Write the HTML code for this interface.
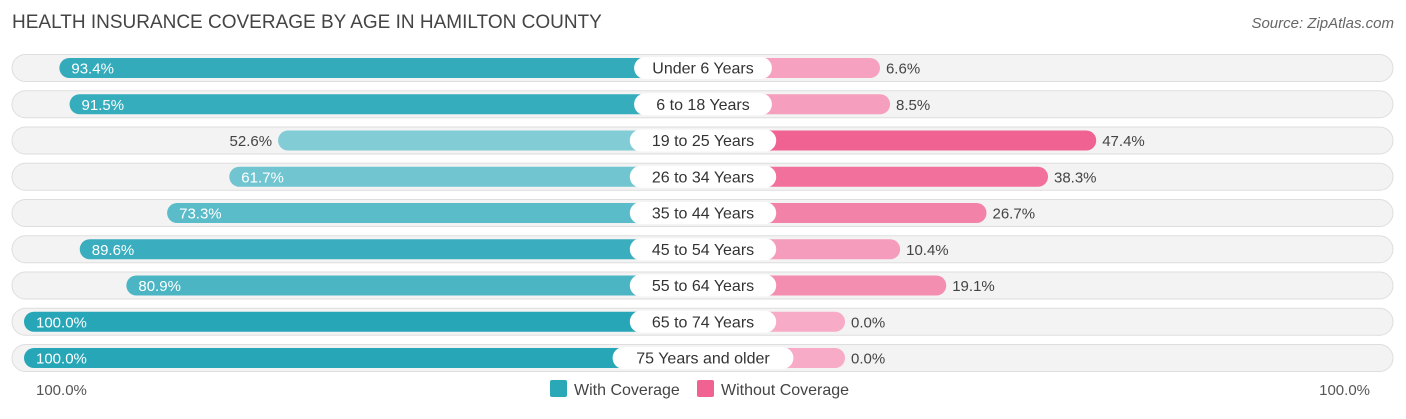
<!DOCTYPE html>
<html><head><meta charset="utf-8"><style>
body{margin:0;background:#fff;font-family:"Liberation Sans",sans-serif;}
svg text{font-family:"Liberation Sans",sans-serif;}
</style></head><body>
<svg width="1406" height="414" xmlns="http://www.w3.org/2000/svg" id="chart">
<text x="12" y="28" font-size="19" fill="#444">HEALTH INSURANCE COVERAGE BY AGE IN HAMILTON COUNTY</text>
<text x="1394" y="28" font-size="15" fill="#666" font-style="italic" text-anchor="end">Source: ZipAtlas.com</text>
<g id="rows"></g>
<text x="36" y="395" font-size="15" fill="#555">100.0%</text>
<text x="1370" y="395" font-size="15" fill="#555" text-anchor="end">100.0%</text>
<rect x="550" y="380" width="17" height="17" rx="2" fill="#2ba8b8"/>
<text x="574" y="395" font-size="16" fill="#444">With Coverage</text>
<rect x="697" y="380" width="17" height="17" rx="2" fill="#f06292"/>
<text x="721" y="395" font-size="16" fill="#444">Without Coverage</text>
</svg>
<script>
const categories=["Under 6 Years","6 to 18 Years","19 to 25 Years","26 to 34 Years","35 to 44 Years","45 to 54 Years","55 to 64 Years","65 to 74 Years","75 Years and older"];
const withCoverage=[93.4,91.5,52.6,61.7,73.3,89.6,80.9,100.0,100.0];
const withoutCoverage=[6.6,8.5,47.4,38.3,26.7,10.4,19.1,0.0,0.0];
const NS="http://www.w3.org/2000/svg";
const g=document.getElementById('rows');
const center=703, tealZero=560, pinkZero=845, sx=5.36, sxp=5.3;
const xTeal=v=>tealZero-v*sx, xPink=v=>pinkZero+v*sxp;
const rowY=i=>68+i*36.25;
function mk(t,a){const e=document.createElementNS(NS,t);for(const k in a)e.setAttribute(k,a[k]);return e;}
function mix(a,b,t){return 'rgb('+a.map((c,i)=>Math.round(c+(b[i]-c)*t)).join(',')+')';}
categories.forEach((c,i)=>{
  const cy=rowY(i);
  const bg=mk('rect',{x:12,y:cy-13.5,width:1381,height:27,rx:13.5,fill:'#f3f3f3',stroke:'#dedede'});
  
  
  g.appendChild(bg);
  const w=withCoverage[i], x1=xTeal(w);
  const t1=Math.min(1,Math.max(0,(w-50)/50));
  const b1=mk('rect',{x:x1,y:cy-10,width:center-x1,height:20,rx:10,fill:mix([135,206,216],[38,166,183],t1)});
  
  
  g.appendChild(b1);
  const wo=withoutCoverage[i], x2=xPink(wo);
  const t2=Math.min(1,wo/47.4);
  const b2=mk('rect',{x:center,y:cy-10,width:x2-center,height:20,rx:10,fill:mix([247,171,198],[240,98,146],t2)});
  
  
  g.appendChild(b2);
  const inside=w>=60;
  const l1=mk('text',{x:inside?x1+12:x1-6,y:cy+5.5,'font-size':15,fill:inside?'#fff':'#444','text-anchor':inside?'start':'end'});
  l1.textContent=w.toFixed(1)+'%';
  
  
  g.appendChild(l1);
  const l2=mk('text',{x:x2+6,y:cy+5.5,'font-size':15,fill:'#444'});
  l2.textContent=wo.toFixed(1)+'%';
  
  
  g.appendChild(l2);
  const tw=c.length*8.6+26;
  const pill=mk('rect',{x:center-tw/2,y:cy-11,width:tw,height:22,rx:11,fill:'#fff'});
  
  
  g.appendChild(pill);
  const cl=mk('text',{x:center,y:cy+5.5,'font-size':16,fill:'#333','text-anchor':'middle'});
  cl.textContent=c;
  
  
  g.appendChild(cl);
});
</script>
</body></html>
